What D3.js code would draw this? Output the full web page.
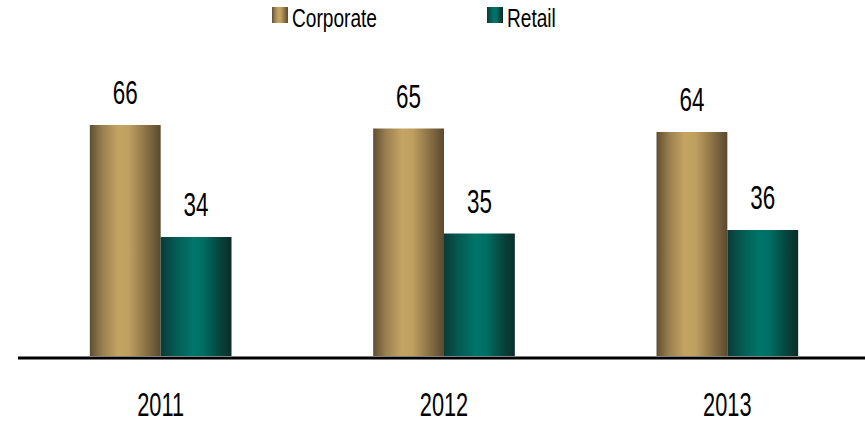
<!DOCTYPE html>
<html>
<head>
<meta charset="utf-8">
<script src="https://cdn.jsdelivr.net/npm/d3@7"></script>
<style>
  html, body { margin: 0; padding: 0; background: #fff; }
  svg { display: block; }
  text { font-family: "Liberation Sans", Arial, sans-serif; fill: #000; }
</style>
</head>
<body>
<svg id="chart" width="865" height="424"></svg>
<script>
// Share of loan book by segment (%)
const years = ["2011", "2012", "2013"];
const seriesNames = ["Corporate", "Retail"];
const corporate = [66, 65, 64];
const retail = [34, 35, 36];

const W = 865, H = 424;
const baseY = 356;
const svg = d3.select("#chart");

// Cylindrical shading for each series
const defs = svg.append("defs");
const shades = {
  Corporate: [["0%", "#5f4e31"], ["18%", "#9a8050"], ["40%", "#c4a462"], ["55%", "#c0a060"], ["78%", "#8d7446"], ["100%", "#5a4930"]],
  Retail: [["0%", "#0b3a35"], ["20%", "#045a52"], ["45%", "#00756a"], ["60%", "#006e64"], ["82%", "#06463f"], ["100%", "#0c2c29"]]
};
Object.entries(shades).forEach(([name, stops]) => {
  const g = defs.append("linearGradient").attr("id", "grad-" + name)
    .attr("x1", "0%").attr("x2", "100%").attr("y1", "0%").attr("y2", "0%");
  stops.forEach(([o, c]) => g.append("stop").attr("offset", o).attr("stop-color", c));
});

const x0 = d3.scaleBand().domain(years).range([19, 869]).paddingInner(0.5).paddingOuter(0.25);
const x1 = d3.scaleBand().domain(seriesNames).range([0, x0.bandwidth()]);
const y = d3.scaleLinear().domain([0, 100]).range([baseY, baseY - 350]);

const rows = years.map((yr, i) => ({ year: yr, values: [
  { key: "Corporate", value: corporate[i] },
  { key: "Retail", value: retail[i] }
]}));

const groups = svg.append("g").selectAll("g").data(rows).join("g")
  .attr("transform", d => `translate(${x0(d.year)},0)`);

groups.selectAll("rect").data(d => d.values).join("rect")
  .attr("x", d => x1(d.key))
  .attr("y", d => y(d.value))
  .attr("width", x1.bandwidth())
  .attr("height", d => baseY - y(d.value))
  .attr("fill", d => `url(#grad-${d.key})`);

// Value labels (condensed face)
groups.selectAll("text.val").data(d => d.values).join("text")
  .attr("class", "val")
  .attr("text-anchor", "middle")
  .attr("font-size", 32.5)
  .attr("transform", d => `translate(${x1(d.key) + x1.bandwidth() / 2},${y(d.value) - 21}) scale(0.69,1)`)
  .text(d => d.value);

// Baseline
svg.append("line")
  .attr("x1", 18).attr("x2", W)
  .attr("y1", baseY + 2).attr("y2", baseY + 2)
  .attr("stroke", "#000").attr("stroke-width", 3);

// Category axis
const axis = svg.append("g").attr("transform", `translate(0,${baseY})`)
  .call(d3.axisBottom(x0).tickSize(0).tickPadding(0));
axis.select(".domain").remove();
axis.selectAll(".tick text")
  .attr("y", 0).attr("dy", 0)
  .attr("font-size", 33.5)
  .attr("font-family", "\"Liberation Sans\", Arial, sans-serif")
  .attr("fill", "#000")
  .attr("transform", "translate(0,60) scale(0.65,1)");

// Legend
const legend = svg.append("g");
const legendPos = [272, 487];
seriesNames.forEach((name, i) => {
  const g = legend.append("g").attr("transform", `translate(${legendPos[i]},7)`);
  g.append("rect").attr("width", 16).attr("height", 16).attr("fill", `url(#grad-${name})`);
  g.append("text").attr("font-size", 25.5)
    .attr("transform", "translate(20,20) scale(0.75,1)")
    .text(name);
});
</script>
</body>
</html>
